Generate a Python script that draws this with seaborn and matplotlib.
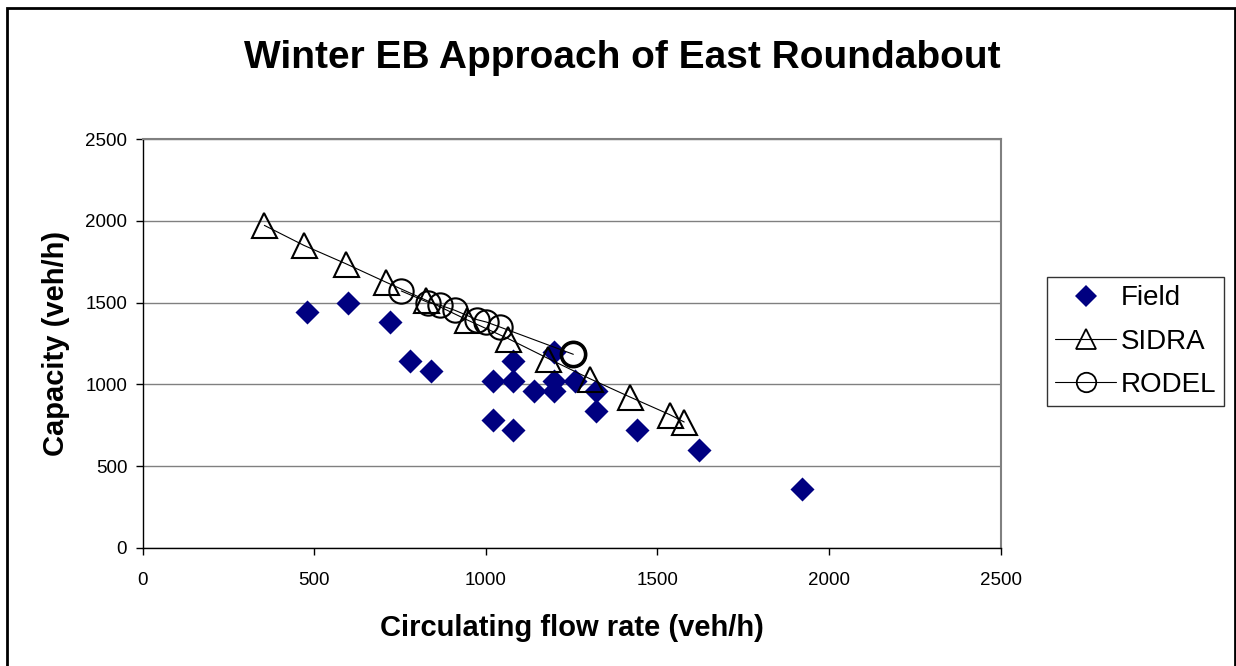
import matplotlib
matplotlib.use("Agg")
import matplotlib.pyplot as plt
from matplotlib.lines import Line2D
from matplotlib.patches import Rectangle
import seaborn as sns
import pandas as pd

# Field measurements (veh/h)
field_flow = [480, 600, 720, 780, 840, 1020, 1020, 1080, 1080, 1080, 1140,
              1200, 1200, 1200, 1260, 1320, 1320, 1440, 1620, 1920]
field_cap = [1440, 1500, 1380, 1140, 1080, 1020, 780, 1140, 1020, 720, 960,
             1200, 1020, 960, 1020, 960, 840, 720, 600, 360]

# SIDRA model predictions
sidra_flow = [355, 470, 592, 708, 827, 944, 1065, 1182, 1303, 1420, 1536, 1578]
sidra_cap = [1972, 1850, 1738, 1626, 1514, 1396, 1280, 1158, 1035, 923, 815, 770]

# RODEL model predictions
rodel_flow = [754, 833, 867, 910, 974, 1002, 1041, 1255]
rodel_cap = [1571, 1500, 1484, 1453, 1396, 1381, 1351, 1184]

title = "Winter EB Approach of East Roundabout"
xlabel = "Circulating flow rate (veh/h)"
ylabel = "Capacity (veh/h)"
series_names = ["Field", "SIDRA", "RODEL"]
ticks = [0, 500, 1000, 1500, 2000, 2500]

sns.set_style("white")
plt.rcParams["font.family"] = ["Liberation Sans", "DejaVu Sans"]
plt.rcParams["text.color"] = "black"
plt.rcParams["axes.labelcolor"] = "black"
plt.rcParams["xtick.color"] = "black"
plt.rcParams["ytick.color"] = "black"

W, H = 1236, 666
fig = plt.figure(figsize=(W / 100, H / 100), dpi=100)
ax = fig.add_axes([142.5 / W, 1 - 548 / H, (1000.7 - 142.5) / W, (548 - 139) / H])

navy = "#000080"
field_df = pd.DataFrame({"flow": field_flow, "cap": field_cap})
sidra_df = pd.DataFrame({"flow": sidra_flow, "cap": sidra_cap})
rodel_df = pd.DataFrame({"flow": rodel_flow, "cap": rodel_cap})

sns.scatterplot(data=field_df, x="flow", y="cap", ax=ax, marker="D", s=150,
                color=navy, edgecolor=navy, linewidth=0, zorder=3, legend=False)
sns.lineplot(data=sidra_df, x="flow", y="cap", ax=ax, sort=False, estimator=None,
             color="black", lw=0.8, marker="^", markersize=18,
             markerfacecolor="none", markeredgecolor="black",
             markeredgewidth=1.5, zorder=4)
sns.lineplot(data=rodel_df, x="flow", y="cap", ax=ax, sort=False, estimator=None,
             color="black", lw=0.8, marker="o", markersize=17.5,
             markerfacecolor="none", markeredgecolor="black",
             markeredgewidth=1.5, zorder=5)
# last RODEL point drawn with a heavier outline
ax.plot(rodel_flow[-1:], rodel_cap[-1:], marker="o", markersize=17.5,
        markerfacecolor="none", markeredgecolor="black", markeredgewidth=2.6,
        linestyle="none", zorder=6)

ax.set_xlim(0, 2500)
ax.set_ylim(0, 2500)
ax.set_xticks(ticks)
ax.set_yticks(ticks)
ax.tick_params(axis="both", direction="out", length=5, width=1, color="black",
               labelsize=13.5, pad=6, left=True, bottom=True)
ax.tick_params(axis="x", pad=12)
ax.grid(axis="y", color="#808080", lw=1)
ax.grid(axis="x", visible=False)
ax.set_axisbelow(True)
for side in ("top", "right"):
    ax.spines[side].set_color("#808080")
    ax.spines[side].set_linewidth(1.5)
for side in ("left", "bottom"):
    ax.spines[side].set_color("black")
    ax.spines[side].set_linewidth(1)

ax.set_xlabel(xlabel, fontsize=21, fontweight="bold", labelpad=18)
ax.set_ylabel(ylabel, fontsize=21, fontweight="bold", labelpad=11)
fig.text(622 / W, 1 - 58 / H, title, ha="center", va="center",
         fontsize=28, fontweight="bold")

handles = [
    Line2D([], [], marker="D", color=navy, linestyle="none", markersize=11,
           markeredgewidth=0),
    Line2D([], [], marker="^", color="black", lw=0.8, markersize=14,
           markerfacecolor="none", markeredgewidth=1.3),
    Line2D([], [], marker="o", color="black", lw=0.8, markersize=14,
           markerfacecolor="none", markeredgewidth=1.3),
]
leg = fig.legend(handles, series_names, loc="upper left",
                 bbox_to_anchor=(1047 / W, 1 - 277 / H), fontsize=20,
                 frameon=True, fancybox=False, edgecolor="black",
                 handlelength=2.2, handletextpad=0.15, labelspacing=0.62,
                 borderpad=0.3, borderaxespad=0)
leg.get_frame().set_linewidth(1)

# outer figure border
fig.patches.append(Rectangle((7 / W, -0.05), (1235 - 7) / W, 1.05 - 8 / H,
                             transform=fig.transFigure, fill=False,
                             edgecolor="black", lw=2, clip_on=False))

fig.savefig("out.png", dpi=100)
